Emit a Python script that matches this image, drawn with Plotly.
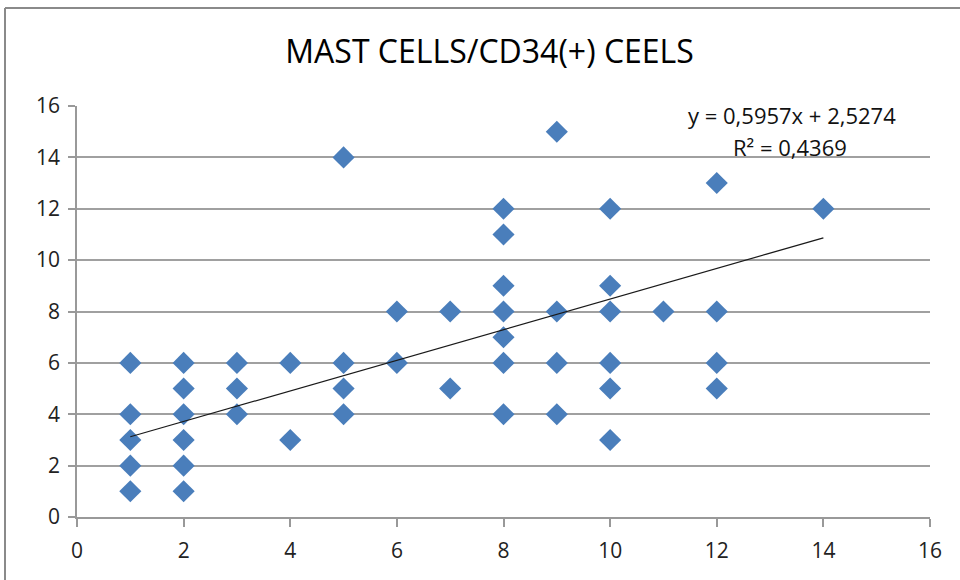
import plotly.graph_objects as go

# data
x_vals = [1,1,1,1,1, 2,2,2,2,2,2, 3,3,3, 4,4, 5,5,5,5, 6,6, 7,7,
          8,8,8,8,8,8,8, 9,9,9,9, 10,10,10,10,10,10, 11, 12,12,12,12, 14]
y_vals = [6,4,3,2,1, 6,5,4,3,2,1, 6,5,4, 6,3, 14,6,5,4, 8,6, 8,5,
          12,11,9,8,7,6,4, 15,8,6,4, 12,9,8,6,5,3, 8, 13,8,6,5, 12]
slope = 0.5957
intercept = 2.5274
r2 = 0.4369
title = "MAST CELLS/CD34(+) CEELS"
x_ticks = [0, 2, 4, 6, 8, 10, 12, 14, 16]
y_ticks = [0, 2, 4, 6, 8, 10, 12, 14, 16]

x0, x1 = min(x_vals), max(x_vals)
trend_x = [x0, x1]
trend_y = [slope * v + intercept for v in trend_x]

fig = go.Figure()
fig.add_trace(go.Scatter(
    x=x_vals, y=y_vals, mode="markers",
    marker=dict(symbol="diamond", size=17, color="#4a7ebb",
                line=dict(width=0)),
    showlegend=False, cliponaxis=False))
fig.add_trace(go.Scatter(
    x=trend_x, y=trend_y, mode="lines",
    line=dict(color="#1a1a1a", width=1.2), showlegend=False))

font_family = "Open Sans, sans-serif"

fig.update_layout(
    width=960, height=580,
    margin=dict(l=77, r=30, t=106, b=63),
    paper_bgcolor="white", plot_bgcolor="white",
    title=dict(text=title, x=0.51, xanchor="center", y=0.91, yanchor="middle",
               font=dict(family=font_family, size=32, color="#000")),
    xaxis=dict(range=[0, 16], tickvals=x_ticks, showgrid=False,
               showline=True, linecolor="#999", linewidth=1.5,
               ticks="outside", ticklen=8, tickcolor="#999", tickwidth=1.5,
               zeroline=False, ticklabelstandoff=6,
               tickfont=dict(family=font_family, size=21, color="#222")),
    yaxis=dict(range=[0, 16], tickvals=y_ticks, showgrid=True,
               gridcolor="#a0a0a0", gridwidth=1.5,
               showline=True, linecolor="#999", linewidth=1.5,
               ticks="outside", ticklen=7, tickcolor="#999", tickwidth=1.5,
               zeroline=False, ticklabelstandoff=4,
               tickfont=dict(family=font_family, size=21, color="#222")),
    annotations=[
        dict(xref="paper", yref="paper", x=(792 - 77) / 853, y=(517 - 115) / 411,
             text=f"y = {str(slope).replace('.', ',')}x + {str(intercept).replace('.', ',')}",
             showarrow=False, xanchor="center", yanchor="middle",
             font=dict(family=font_family, size=22, color="#111")),
        dict(xref="paper", yref="paper", x=(790 - 77) / 853, y=(517 - 147) / 411,
             text=f"R² = {str(r2).replace('.', ',')}",
             showarrow=False, xanchor="center", yanchor="middle",
             font=dict(family=font_family, size=22, color="#111")),
    ],
    shapes=[
        dict(type="line", xref="paper", yref="paper",
             x0=(5 - 77) / 853, x1=(962 - 77) / 853,
             y0=(517 - 8) / 411, y1=(517 - 8) / 411,
             line=dict(color="#8a8a8a", width=2)),
        dict(type="line", xref="paper", yref="paper",
             x0=(5 - 77) / 853, x1=(5 - 77) / 853,
             y0=(517 - 8) / 411, y1=(517 - 582) / 411,
             line=dict(color="#8a8a8a", width=2)),
    ],
)

fig.write_html("out.html")
